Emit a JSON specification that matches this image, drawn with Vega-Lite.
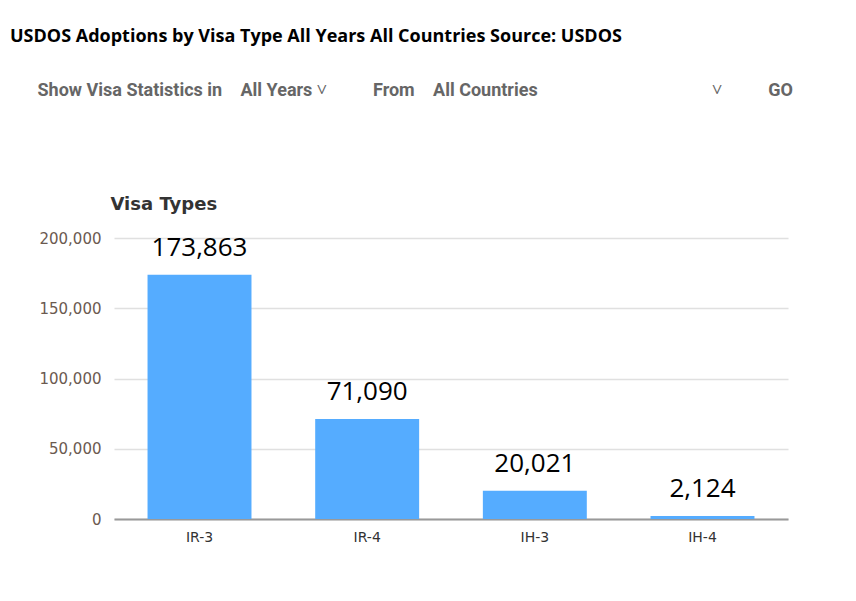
{
  "$schema": "https://vega.github.io/schema/vega-lite/v6.json",
  "width": 674,
  "height": 281,
  "autosize": {"type": "none"},
  "padding": {"left": 114, "top": 238, "right": 68, "bottom": 82},
  "background": "white",
  "title": {
    "text": "USDOS Adoptions by Visa Type All Years All Countries Source: USDOS",
    "subtitle": "\u200b\u2003\u2002Show Visa Statistics in\u2003All Years \u02c5\u2003\u2003\u2002From\u2003All Countries\u2003\u2003\u2003\u2003\u2003\u2003\u2003\u2003\u2003\u2002\u02c5\u2003\u2003\u2002GO",
    "anchor": "start",
    "frame": "group",
    "dx": -104,
    "offset": 95,
    "font": "Open Sans",
    "fontSize": 18,
    "fontWeight": "bold",
    "color": "black",
    "subtitleFont": "Roboto",
    "subtitleFontSize": 18,
    "subtitleFontWeight": "bold",
    "subtitleColor": "#666666",
    "subtitlePadding": 36
  },
  "data": {
    "values": [
      {"visa": "IR-3", "count": 173863},
      {"visa": "IR-4", "count": 71090},
      {"visa": "IH-3", "count": 20021},
      {"visa": "IH-4", "count": 2124}
    ]
  },
  "encoding": {
    "x": {
      "field": "visa",
      "type": "nominal",
      "sort": null,
      "scale": {"paddingInner": 0.38, "paddingOuter": 0.2},
      "axis": {
        "title": null,
        "labelAngle": 0,
        "labelFont": "DejaVu Sans",
        "labelFontSize": 14,
        "labelColor": "#333333",
        "labelPadding": 11,
        "ticks": false,
        "domain": true,
        "domainColor": "#999999",
        "domainWidth": 2,
        "grid": false
      }
    },
    "y": {
      "field": "count",
      "type": "quantitative",
      "scale": {"domain": [0, 200000]},
      "axis": {
        "title": "Visa Types",
        "titleAngle": 0,
        "titleAlign": "left",
        "titleBaseline": "alphabetic",
        "titleX": -4,
        "titleY": -29,
        "titleFont": "DejaVu Sans",
        "titleFontSize": 18,
        "titleFontWeight": "bold",
        "titleColor": "#333333",
        "labelFont": "DejaVu Sans",
        "labelFontSize": 15,
        "labelColor": "#6b5a50",
        "labelPadding": 13,
        "values": [0, 50000, 100000, 150000, 200000],
        "format": ",d",
        "ticks": false,
        "domain": false,
        "grid": true,
        "gridColor": "#e0e0e0",
        "gridWidth": 1.5
      }
    }
  },
  "layer": [
    {"mark": {"type": "bar", "color": "#55acff"}},
    {
      "mark": {"type": "text", "baseline": "bottom", "dy": -14, "font": "Open Sans", "fontSize": 26, "color": "black"},
      "encoding": {"text": {"field": "count", "type": "quantitative", "format": ","}}
    }
  ],
  "config": {"view": {"stroke": null}}
}
